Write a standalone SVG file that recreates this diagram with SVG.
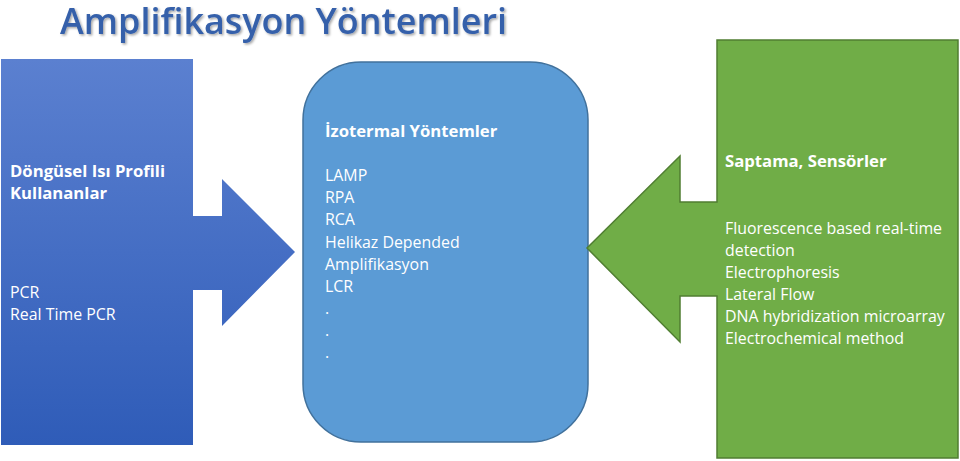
<svg xmlns="http://www.w3.org/2000/svg" width="960" height="461" viewBox="0 0 960 461">
<defs>
<linearGradient id="gBlue" x1="0" y1="0" x2="0" y2="1">
<stop offset="0" stop-color="#5b80d0"/>
<stop offset="1" stop-color="#2f5cb8"/>
</linearGradient>
<filter id="sh" x="-5%" y="-20%" width="110%" height="140%">
<feDropShadow dx="1.5" dy="1.5" stdDeviation="1" flood-color="#000" flood-opacity="0.35"/>
</filter>
</defs>
<style>
text{font-family:"Open Sans","Noto Sans",sans-serif;fill:#fff;font-size:15.9px}
.b{font-weight:bold;font-size:16.7px}
.title{font-size:36px;fill:#3560aa;font-weight:600}
</style>
<rect width="960" height="461" fill="#fff"/>
<text class="title" x="60" y="34" filter="url(#sh)" textLength="447" lengthAdjust="spacingAndGlyphs">Amplifikasyon Yöntemleri</text>
<g id="cyclic">
<path d="M1,59 H193 V216 H222 V179 L295,252 L222,326 V290 H193 V445 H1 Z" fill="url(#gBlue)"/>
<text class="b" x="10" y="177">Döngüsel Isı Profili</text>
<text class="b" x="10" y="199">Kullananlar</text>
<text x="10" y="298">PCR</text>
<text x="10" y="320">Real Time PCR</text>
</g>
<g id="isothermal">
<rect x="303" y="62" width="285" height="380" rx="58" ry="58" fill="#5b9bd5" stroke="#41719c" stroke-width="1.5"/>
<text class="b" x="325" y="137">İzotermal Yöntemler</text>
<text x="325" y="181">LAMP</text>
<text x="325" y="203">RPA</text>
<text x="325" y="225">RCA</text>
<text x="325" y="248">Helikaz Depended</text>
<text x="325" y="270">Amplifikasyon</text>
<text x="325" y="292">LCR</text>
<text x="325" y="314">.</text>
<text x="325" y="336">.</text>
<text x="325" y="358">.</text>
</g>
<g id="detection">
<path d="M717,40 H958 V458 H717 V296 H680 V342 L587,248 L680,156 V202 H717 Z" fill="#70ad47" stroke="#507e32" stroke-width="1.5"/>
<text class="b" x="725" y="167">Saptama, Sensörler</text>
<text x="725" y="234">Fluorescence based real-time</text>
<text x="725" y="256">detection</text>
<text x="725" y="278">Electrophoresis</text>
<text x="725" y="300">Lateral Flow</text>
<text x="725" y="322">DNA hybridization microarray</text>
<text x="725" y="344">Electrochemical method</text>
</g>
<g id="connectors"></g>
</svg>
